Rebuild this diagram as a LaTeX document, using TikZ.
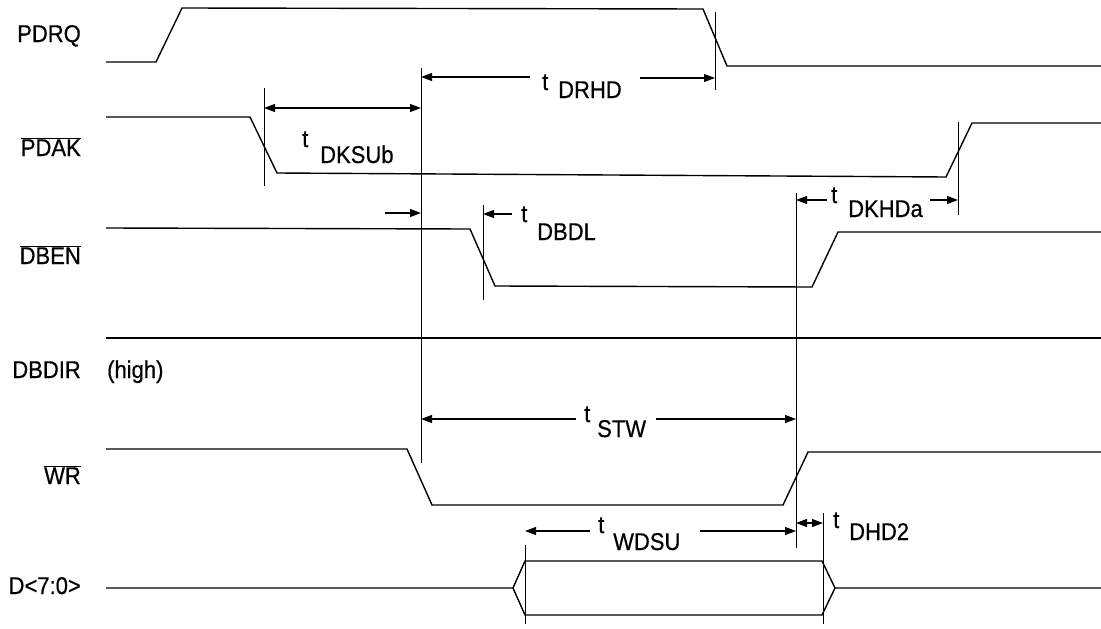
\documentclass[tikz,border=0pt]{standalone}
\usepackage{fontspec}
\setmainfont{Liberation Sans}[FakeBold=0.6]
\usetikzlibrary{arrows.meta}
\newcommand{\stx}[1]{\scalebox{1}[1.1]{#1}}
\tikzset{
  sig/.style={line width=1.4pt, line join=miter},
  guide/.style={line width=1pt},
  dim/.style={line width=1.1pt},
  tip/.style={-{Triangle[length=11pt,width=8pt]}},
  tips/.style={{Triangle[length=11pt,width=8pt]}-{Triangle[length=11pt,width=8pt]}},
  siglabel/.style={font=\fontsize{22}{26}\selectfont, inner sep=0pt, anchor=base east},
  tlab/.style={font=\fontsize{22}{26}\selectfont, inner sep=0pt, anchor=base west},
}
\begin{document}
\begin{tikzpicture}[x=1pt,y=-1pt]
\useasboundingbox (0,0) rectangle (1101,629);
% ---- signal labels ----
\node[siglabel] (lPDRQ) at (81,42) {\stx{PDRQ}};
\node[siglabel] (lPDAK) at (81,156) {\stx{$\overline{\mbox{PDAK}}$}};
\node[siglabel] (lDBEN) at (81,264) {\stx{$\overline{\mbox{DBEN}}$}};
\node[siglabel] (lDBDIR) at (81,378) {\stx{DBDIR}};
\node[tlab] (lhigh) at (107,378) {\stx{(high)}};
\node[siglabel] (lWR) at (81,484) {\stx{$\overline{\mbox{WR}}$}};
\node[siglabel] (lD) at (81,594) {\stx{D<7:0>}};
% ---- waveforms ----
\draw[sig] (106,62) -- (156,62) -- (182,8) -- (703,9) -- (727,66) -- (1101,66);
\draw[sig] (106,117) -- (250,117) -- (277,173) -- (946,177) -- (972,123) -- (1101,123);
\draw[sig] (106,228) -- (470,229) -- (495,286) -- (812,287) -- (838,232) -- (1101,232);
\draw[sig] (106,338) -- (1101,338);
\draw[sig] (106,449) -- (407,449) -- (432,505) -- (783,505) -- (808,452) -- (1101,452);
\draw[sig] (106,588) -- (513,588) -- (525,561) -- (822,561) -- (835,588) -- (1101,588);
\draw[sig] (513,588) -- (525,615) -- (822,615) -- (835,588);
% ---- guide lines ----
\coordinate (g264t) at (264,88);   \coordinate (g264b) at (264,186);
\coordinate (g421t) at (421,68);   \coordinate (g421b) at (421,463);
\coordinate (g715t) at (715,12);   \coordinate (g715b) at (715,90);
\coordinate (g483t) at (483,205);  \coordinate (g483b) at (483,300);
\coordinate (g796t) at (796,193);  \coordinate (g796b) at (796,548);
\coordinate (g958t) at (958,122);  \coordinate (g958b) at (958,215);
\coordinate (g525t) at (525,545);  \coordinate (g525b) at (525,624);
\coordinate (g823t) at (823,513);  \coordinate (g823b) at (823,624);
\foreach \a in {264,421,715,483,796,958,525,823}{\draw[guide] (g\a t) -- (g\a b);}
% ---- dimension arrows ----
% tDKSUb
\draw[dim,tips] (264,108) -- (421,108);
\node[tlab] (tA) at (302,147) {\stx{t}};
\node[tlab] (tAs) at (320,163) {\stx{DKSUb}};
% tDRHD
\coordinate (drA) at (530,77); \coordinate (drB) at (640,78);
\draw[dim,tip] (drA) -- (421,77);
\draw[dim,tip] (drB) -- (715,78);
\node[tlab] (tB) at (542,90) {\stx{t}};
\node[tlab] (tBs) at (558,98) {\stx{DRHD}};
% arrow into 421 on DBEN
\coordinate (pin) at (385,213);
\draw[dim,tip] (pin) -- (421,213);
% tDBDL
\coordinate (dbA) at (512,214);
\draw[dim,tip] (dbA) -- (483,214);
\node[tlab] (tC) at (521,222) {\stx{t}};
\node[tlab] (tCs) at (537,240) {\stx{DBDL}};
% tDKHDa
\coordinate (dkA) at (827,200); \coordinate (dkB) at (930,200);
\draw[dim,tip] (dkA) -- (796,200);
\draw[dim,tip] (dkB) -- (958,200);
\node[tlab] (tD) at (831,203) {\stx{t}};
\node[tlab] (tDs) at (848,217) {\stx{DKHDa}};
% tSTW
\coordinate (stA) at (576,419); \coordinate (stB) at (656,419);
\draw[dim,tip] (stA) -- (421,419);
\draw[dim,tip] (stB) -- (796,419);
\node[tlab] (tE) at (584,422) {\stx{t}};
\node[tlab] (tEs) at (597,437) {\stx{STW}};
% tWDSU
\coordinate (wdA) at (590,531); \coordinate (wdB) at (700,531);
\draw[dim,tip] (wdA) -- (525,531);
\draw[dim,tip] (wdB) -- (796,531);
\node[tlab] (tF) at (598,533) {\stx{t}};
\node[tlab] (tFs) at (613,550) {\stx{WDSU}};
% tDHD2
\draw[dim,tips] (796,523) -- (823,523);
\node[tlab] (tG) at (833,528) {\stx{t}};
\node[tlab] (tGs) at (849,540) {\stx{DHD2}};
\end{tikzpicture}
\end{document}
